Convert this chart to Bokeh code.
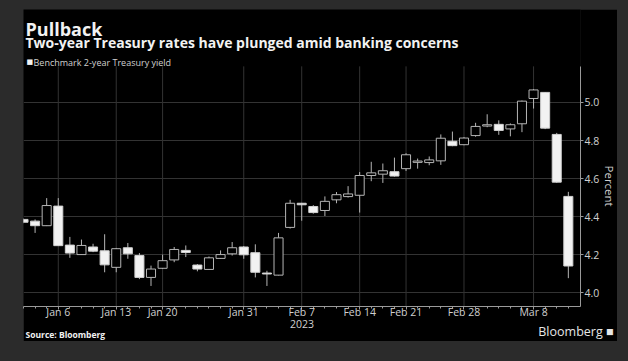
from bokeh.plotting import figure
from bokeh.models import (Range1d, FixedTicker, Title, ColumnDataSource,
                          NumeralTickFormatter, Spacer)
from bokeh.core.properties import value
from bokeh.layouts import column, row
from bokeh.embed import file_html
from bokeh.resources import INLINE

# ---- data: daily OHLC of the benchmark 2-year Treasury yield (%) ----
dates = ["2023-01-03", "2023-01-04", "2023-01-05", "2023-01-06",
         "2023-01-09", "2023-01-10", "2023-01-11", "2023-01-12", "2023-01-13",
         "2023-01-17", "2023-01-18", "2023-01-19", "2023-01-20",
         "2023-01-23", "2023-01-24", "2023-01-25", "2023-01-26", "2023-01-27",
         "2023-01-30", "2023-01-31", "2023-02-01", "2023-02-02", "2023-02-03",
         "2023-02-06", "2023-02-07", "2023-02-08", "2023-02-09", "2023-02-10",
         "2023-02-13", "2023-02-14", "2023-02-15", "2023-02-16", "2023-02-17",
         "2023-02-21", "2023-02-22", "2023-02-23", "2023-02-24",
         "2023-02-27", "2023-02-28", "2023-03-01", "2023-03-02", "2023-03-03",
         "2023-03-06", "2023-03-07", "2023-03-08", "2023-03-09", "2023-03-10",
         "2023-03-13"]
open_ = [4.385, 4.376, 4.352, 4.455, 4.250, 4.200, 4.240, 4.220, 4.133,
         4.236, 4.195, 4.080, 4.128, 4.172, 4.222, 4.145, 4.122, 4.180,
         4.204, 4.240, 4.210, 4.103, 4.092, 4.343, 4.470, 4.453, 4.432,
         4.488, 4.505, 4.512, 4.616, 4.623, 4.636, 4.652, 4.685, 4.684,
         4.693, 4.796, 4.778, 4.826, 4.876, 4.885, 4.861, 4.888, 5.021,
         5.053, 4.832, 4.506]
high = [4.390, 4.385, 4.497, 4.497, 4.293, 4.279, 4.257, 4.307, 4.235,
        4.261, 4.208, 4.142, 4.200, 4.240, 4.248, 4.150, 4.190, 4.222,
        4.266, 4.245, 4.254, 4.115, 4.314, 4.488, 4.472, 4.460, 4.506,
        4.529, 4.560, 4.634, 4.688, 4.679, 4.710, 4.733, 4.705, 4.716,
        4.832, 4.847, 4.818, 4.893, 4.938, 4.906, 4.890, 5.010, 5.070,
        5.055, 4.840, 4.530]
low = [4.365, 4.314, 4.350, 4.245, 4.183, 4.200, 4.213, 4.107, 4.107,
       4.178, 4.071, 4.035, 4.125, 4.160, 4.187, 4.112, 4.120, 4.178,
       4.195, 4.178, 4.080, 4.035, 4.090, 4.337, 4.378, 4.415, 4.403,
       4.470, 4.500, 4.421, 4.586, 4.577, 4.610, 4.640, 4.652, 4.670,
       4.672, 4.770, 4.775, 4.820, 4.870, 4.830, 4.822, 4.844, 4.968,
       4.860, 4.578, 4.076]
close = [4.370, 4.352, 4.458, 4.247, 4.208, 4.248, 4.218, 4.146, 4.231,
         4.204, 4.080, 4.124, 4.168, 4.227, 4.211, 4.124, 4.183, 4.200,
         4.236, 4.199, 4.107, 4.098, 4.288, 4.470, 4.462, 4.421, 4.480,
         4.515, 4.519, 4.616, 4.630, 4.641, 4.613, 4.725, 4.692, 4.698,
         4.812, 4.773, 4.813, 4.874, 4.883, 4.853, 4.883, 5.007, 5.066,
         4.865, 4.581, 4.140]

tick_dates = ["2023-01-06", "2023-01-13", "2023-01-20", "2023-01-31",
              "2023-02-07", "2023-02-14", "2023-02-21", "2023-02-28",
              "2023-03-08"]
tick_labels = ["Jan 6", "Jan 13", "Jan 20", "Jan 31", "Feb 7",
               "Feb 14", "Feb 21", "Feb 28", "Mar 8"]
year_label = "2023"
y_ticks = [4.0, 4.2, 4.4, 4.6, 4.8, 5.0]

FONT = "Open Sans"
TXT = "#d0d0d0"
AXC = "#9a9a9a"
GRID = "#333333"

# ---- geometry of the chart area ----
FIG_W, FIG_H = 594, 332          # black panel: page x 23.., y 9..341
X0, X1 = 0.0, 48.05              # visible trading-day index range
Y0, Y1 = 3.927, 5.489            # frame spans the whole panel height above the axis
Y_TOP_DATA = 5.19                # top of the data area (grid / axis extent)
PX_X = 11.55                     # px per trading day
PX_Y = 187.6                     # px per percentage point


def sx(px):      # page x (px) -> data x
    return X0 + (px - 23) / PX_X


def sy(py):      # page y (px) -> data y
    return Y0 + (302 - py) / PX_Y


idx = list(range(len(dates)))
up = [c >= o for o, c in zip(open_, close)]
src_all = ColumnDataSource(dict(x=idx, high=high, low=low))
src_up = ColumnDataSource(dict(
    x=[i for i in idx if up[i]],
    top=[close[i] for i in idx if up[i]],
    bottom=[open_[i] for i in idx if up[i]]))
src_dn = ColumnDataSource(dict(
    x=[i for i in idx if not up[i]],
    top=[open_[i] for i in idx if not up[i]],
    bottom=[close[i] for i in idx if not up[i]]))

p = figure(width=FIG_W, height=FIG_H, output_backend="svg",
           toolbar_location=None,
           x_range=Range1d(X0, X1), y_range=Range1d(Y0, Y1),
           y_axis_location="right",
           min_border_left=0, min_border_right=0, min_border_top=0,
           min_border_bottom=0)
p.background_fill_color = "#000000"
p.border_fill_color = "#000000"
p.outline_line_color = None

# grid
major_pos = [dates.index(d) for d in tick_dates]
p.xgrid.visible = False
p.ygrid.ticker = FixedTicker(ticks=y_ticks)
p.ygrid.grid_line_color = GRID
p.segment(x0=major_pos, x1=major_pos, y0=[Y0] * len(major_pos),
          y1=[Y_TOP_DATA] * len(major_pos), line_color=GRID, line_width=1)

# candles
p.segment(x0="x", y0="low", x1="x", y1="high", source=src_all,
          line_color="#b5b5b5", line_width=1)
p.vbar(x="x", top="top", bottom="bottom", width=0.78, source=src_up,
       fill_color="#000000", line_color="#b5b5b5", line_width=1)
p.vbar(x="x", top="top", bottom="bottom", width=0.78, source=src_dn,
       fill_color="#f2f2f2", line_color="#d0d0d0", line_width=1)

# x axis
xa = p.xaxis[0]
xa.ticker = FixedTicker(ticks=major_pos, minor_ticks=idx)
xa.major_label_overrides = {pos: lab for pos, lab in zip(major_pos, tick_labels)}
xa.axis_line_color = AXC
xa.major_tick_line_color = AXC
xa.minor_tick_line_color = AXC
xa.major_tick_in = 0
xa.major_tick_out = 3
xa.minor_tick_in = 0
xa.minor_tick_out = 2
xa.major_label_text_color = TXT
xa.major_label_text_font = FONT
xa.major_label_text_font_size = "10.5px"
xa.major_label_standoff = -5
xa.axis_label = year_label
xa.axis_label_text_color = TXT
xa.axis_label_text_font = FONT
xa.axis_label_text_font_size = "10.5px"
xa.axis_label_text_font_style = "normal"
xa.axis_label_standoff = -2

# y axis (right)
ya = p.yaxis[0]
ya.ticker = FixedTicker(ticks=y_ticks)
ya.formatter = NumeralTickFormatter(format="0.0")
ya.bounds = (Y0, Y_TOP_DATA)
ya.axis_line_color = AXC
ya.major_tick_line_color = AXC
ya.minor_tick_line_color = None
ya.major_tick_in = 0
ya.major_tick_out = 3
ya.major_label_text_color = TXT
ya.major_label_text_font = FONT
ya.major_label_text_font_size = "10.5px"
ya.major_label_standoff = 1

# heading texts (inside the frame, above the data area)
p.text(x=[sx(25)], y=[sy(28.3)], text=["Pullback"], text_font=value(FONT),
       text_font_size="18px", text_font_style="bold", text_color="#f2f2f2",
       text_baseline="alphabetic", text_align="left")
p.text(x=[sx(25)], y=[sy(41.5)],
       text=["Two-year Treasury rates have plunged amid banking concerns"],
       text_font=value(FONT), text_font_size="14px", text_font_style="bold",
       text_color="#f2f2f2", text_baseline="alphabetic", text_align="left")
p.text(x=[sx(26)], y=[sy(61)], text=["\u25A0"], text_font=value("DejaVu Sans"),
       text_font_size="7px", text_color="#f2f2f2",
       text_baseline="alphabetic", text_align="left")
p.text(x=[sx(33)], y=[sy(61)], text=["Benchmark 2-year Treasury yield"],
       text_font=value(FONT), text_font_size="9px", text_color=TXT,
       text_baseline="alphabetic", text_align="left")


def title(text, side, size, color="#f2f2f2", style="normal", align="left",
          offset=2, standoff=0, valign="bottom"):
    p.add_layout(Title(text=text, align=align, offset=offset, standoff=standoff,
                       vertical_align=valign,
                       text_font=FONT, text_font_size=size,
                       text_font_style=style, text_color=color), side)


# right: axis title
title("Percent", "right", "11.5px", color=TXT, style="normal", align="left",
      offset=156, standoff=-2, valign="bottom")
# below: after the x axis
title("Bloomberg \u25A0", "below", "12.5px", color="#e6e6e6", align="right",
      offset=-33, standoff=-19, valign="bottom")
title("Source: Bloomberg", "below", "8.5px", style="bold", standoff=-2.3,
      valign="top")

layout = column(Spacer(height=9), row(Spacer(width=23), p))

html = file_html(layout, INLINE)
html = html.replace("<head>", "<head><style>html,body{background:#2b2b2b;}</style>", 1)
open("out.html", "w").write(html)
